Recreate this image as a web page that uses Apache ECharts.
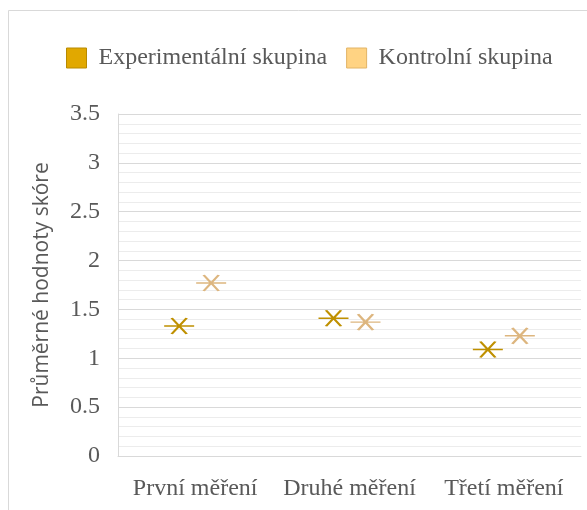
<!DOCTYPE html>
<html>
<head>
<meta charset="utf-8">
<script src="https://cdn.jsdelivr.net/npm/echarts@6/dist/echarts.min.js"></script>
<style>
  html, body { margin: 0; padding: 0; background: #fff; }
  #chart { width: 587px; height: 510px; }
</style>
</head>
<body>
<div id="chart"></div>
<script>
// Measurement rounds (x axis)
const categories = ['První měření', 'Druhé měření', 'Třetí měření'];
// Mean score per round
const experimentalValues = [1.33, 1.41, 1.09];
const controlValues = [1.77, 1.37, 1.23];
const seriesNames = ['Experimentální skupina', 'Kontrolní skupina'];
const yAxisTitle = 'Průměrné hodnoty skóre';

// Asterisk-like marker: horizontal bar crossed by an X
const starPath = 'path://M0,8L30,8M7.5,0L22.5,16M22.5,0L7.5,16';

const serif = '"Liberation Serif", "Times New Roman", serif';
const textGray = '#595959';

const chart = echarts.init(document.getElementById('chart'), null, { renderer: 'canvas' });

chart.setOption({
  animation: false,
  backgroundColor: '#ffffff',
  graphic: [{
    type: 'rect',
    shape: { x: 8.5, y: 10.5, width: 620, height: 540 },
    style: { fill: 'none', stroke: '#d9d9d9', lineWidth: 1 },
    silent: true
  }],
  legend: {
    left: 66,
    top: 46,
    padding: 0,
    itemWidth: 20,
    itemHeight: 20,
    itemGap: 19,
    textStyle: { fontFamily: serif, fontSize: 24, color: textGray, padding: [0, 0, 0, 7] },
    data: [
      { name: seriesNames[0], icon: 'rect', itemStyle: { color: '#E1A800', borderColor: '#B88A00', borderWidth: 1 } },
      { name: seriesNames[1], icon: 'rect', itemStyle: { color: '#FFD383', borderColor: '#E2B466', borderWidth: 1 } }
    ]
  },
  grid: { left: 118, right: 6, top: 114, bottom: 54, containLabel: false },
  xAxis: {
    type: 'category',
    data: categories,
    boundaryGap: true,
    axisLine: { show: true, lineStyle: { color: '#d9d9d9', width: 1 } },
    axisTick: { show: false },
    axisLabel: { interval: 0, hideOverlap: false, fontFamily: serif, fontSize: 24, color: textGray, margin: 21 },
    splitLine: { show: false }
  },
  yAxis: {
    type: 'value',
    min: 0,
    max: 3.5,
    interval: 0.5,
    name: yAxisTitle,
    nameLocation: 'middle',
    nameGap: 65,
    nameRotate: 90,
    nameTextStyle: { fontFamily: '"Open Sans", "Noto Sans", sans-serif', fontSize: 21, color: textGray },
    axisLine: { show: true, lineStyle: { color: '#d9d9d9', width: 1 } },
    axisTick: { show: false },
    axisLabel: { fontFamily: serif, fontSize: 24, color: textGray, margin: 18 },
    splitLine: { show: true, lineStyle: { color: '#d9d9d9', width: 1 } },
    minorTick: { show: false, splitNumber: 5 },
    minorSplitLine: { show: true, lineStyle: { color: '#ececec', width: 1 } }
  },
  series: [
    {
      name: seriesNames[0],
      type: 'scatter',
      data: experimentalValues,
      symbol: starPath,
      symbolSize: [30, 16],
      symbolOffset: [-16, 0],
      itemStyle: { color: 'rgba(0,0,0,0)', borderColor: '#BF9000', borderWidth: 2, opacity: 1 }
    },
    {
      name: seriesNames[1],
      type: 'scatter',
      data: controlValues,
      symbol: starPath,
      symbolSize: [30, 16],
      symbolOffset: [16, 0],
      itemStyle: { color: 'rgba(0,0,0,0)', borderColor: '#DDB67F', borderWidth: 2, opacity: 1 }
    }
  ]
});
</script>
</body>
</html>
